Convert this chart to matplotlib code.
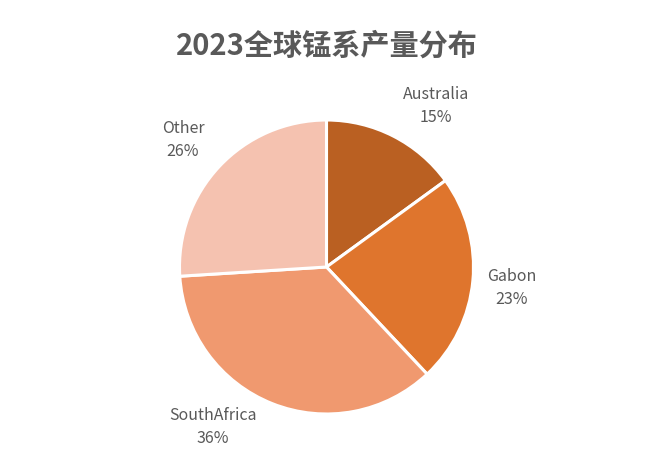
import matplotlib
matplotlib.use("Agg")
import matplotlib.pyplot as plt

plt.rcParams['font.family'] = ['Noto Sans CJK SC', 'DejaVu Sans']

regions = ['Australia', 'Gabon', 'SouthAfrica', 'Other']
shares = [15, 23, 36, 26]
colors = ['#BA6022', '#DF752D', '#F0996F', '#F5C2B0']
# label anchor points (pixels, from bottom-left) as Excel "best fit" put them
label_xy = [(436, 358), (512, 176), (213, 37), (183, 324)]

fig = plt.figure(figsize=(6.53, 4.64), dpi=100)
ax = fig.add_axes([0, 0, 1, 1])

labels = ['%s\n%d%%' % (r, s) for r, s in zip(regions, shares)]
wedges, texts = ax.pie(shares, colors=colors, labels=labels, startangle=90,
                       counterclock=False, center=(326.5, 196), radius=147,
                       frame=True,
                       wedgeprops=dict(edgecolor='white', linewidth=2.2),
                       textprops=dict(fontsize=11.5, color='#595959',
                                      linespacing=1.45))
for t, xy in zip(texts, label_xy):
    t.set_position(xy)
    t.set_ha('center')
    t.set_va('center')
ax.set_xlim(0, 653)
ax.set_ylim(0, 464)
ax.set_aspect('equal')
ax.axis('off')

fig.text(0.5, 1 - 46 / 464, '2023全球锰系产量分布', ha='center', va='center',
         fontsize=21, fontweight='bold', color='#595959')

fig.savefig('out.png', dpi=100)
